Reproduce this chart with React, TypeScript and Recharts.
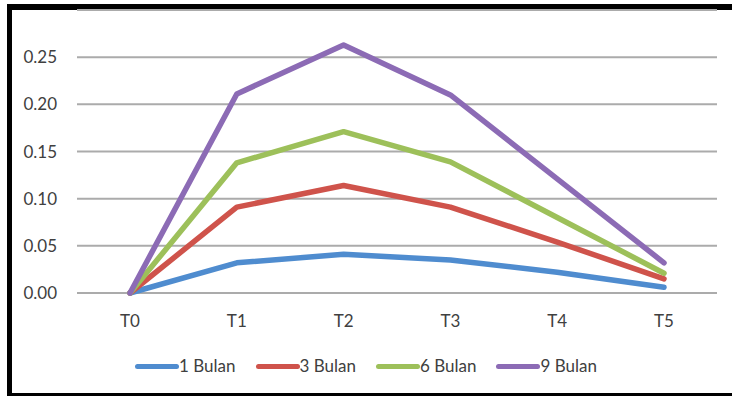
import React from 'react';
import { LineChart, Line, XAxis, YAxis, CartesianGrid, Legend } from 'recharts';

const categories = ['T0', 'T1', 'T2', 'T3', 'T4', 'T5'];
const bulan1 = [0, 0.032, 0.041, 0.035, 0.022, 0.006];
const bulan3 = [0, 0.091, 0.114, 0.091, 0.054, 0.015];
const bulan6 = [0, 0.138, 0.171, 0.139, 0.08, 0.021];
const bulan9 = [0, 0.211, 0.263, 0.21, 0.121, 0.032];
const yTicks = [0, 0.05, 0.1, 0.15, 0.2, 0.25];

const series = [
  { key: 'b1', name: '1 Bulan', values: bulan1, color: '#4F8CCF' },
  { key: 'b3', name: '3 Bulan', values: bulan3, color: '#CF534B' },
  { key: 'b6', name: '6 Bulan', values: bulan6, color: '#9DC05A' },
  { key: 'b9', name: '9 Bulan', values: bulan9, color: '#8C6BB5' },
];

const data = categories.map((name, i) => {
  const row: Record<string, string | number> = { name };
  series.forEach((s) => {
    row[s.key] = s.values[i];
  });
  return row;
});

const font = 'Lato, "Open Sans", sans-serif';
const textColor = '#404040';

function LegendRow() {
  return (
    <div style={{ display: 'flex', justifyContent: 'center', height: 20, alignItems: 'center' }}>
      {series.map((s) => (
        <div key={s.key} style={{ display: 'flex', alignItems: 'center', margin: '0 10px' }}>
          <span
            style={{
              display: 'inline-block',
              width: 44,
              height: 5,
              borderRadius: 3,
              background: s.color,
            }}
          />
          <span style={{ fontFamily: font, fontSize: 17, color: textColor, lineHeight: '20px' }}>{s.name}</span>
        </div>
      ))}
    </div>
  );
}

export default function App() {
  return (
    <div style={{ position: 'fixed', left: 0, top: 0, width: 732, height: 396, overflow: 'hidden', background: '#fff' }}>
      <div
        style={{
          position: 'absolute',
          left: 7,
          top: 4,
          width: 740,
          height: 395,
          boxSizing: 'border-box',
          borderLeft: '5px solid #000',
          borderTop: '6px solid #000',
          borderBottom: '6px solid #000',
        }}
      />
      <div style={{ position: 'absolute', left: 0, top: 0 }}>
        <LineChart width={732} height={396} data={data} margin={{ top: 10, right: 15, bottom: 20, left: 0 }}>
          <CartesianGrid vertical={false} stroke="#ababab" strokeWidth={2} />
          <XAxis
            dataKey="name"
            axisLine={false}
            tickLine={false}
            height={63}
            padding={{ left: 53, right: 53 }}
            tickMargin={16}
            tick={{ fill: textColor, fontSize: 17, fontFamily: font }}
          />
          <YAxis
            domain={[0, 0.3]}
            ticks={yTicks}
            width={77}
            axisLine={false}
            tickLine={false}
            tickMargin={14}
            tickFormatter={(v: number) => v.toFixed(2)}
            tick={{ fill: textColor, fontSize: 17, fontFamily: font }}
          />
          <Legend
            verticalAlign="bottom"
            content={() => <LegendRow />}
            wrapperStyle={{ left: 0, width: 732 }}
          />
          {series.map((s) => (
            <Line
              key={s.key}
              dataKey={s.key}
              name={s.name}
              stroke={s.color}
              strokeWidth={5.5}
              strokeLinejoin="round"
              strokeLinecap="round"
              dot={false}
              activeDot={false}
              isAnimationActive={false}
            />
          ))}
        </LineChart>
      </div>
    </div>
  );
}
